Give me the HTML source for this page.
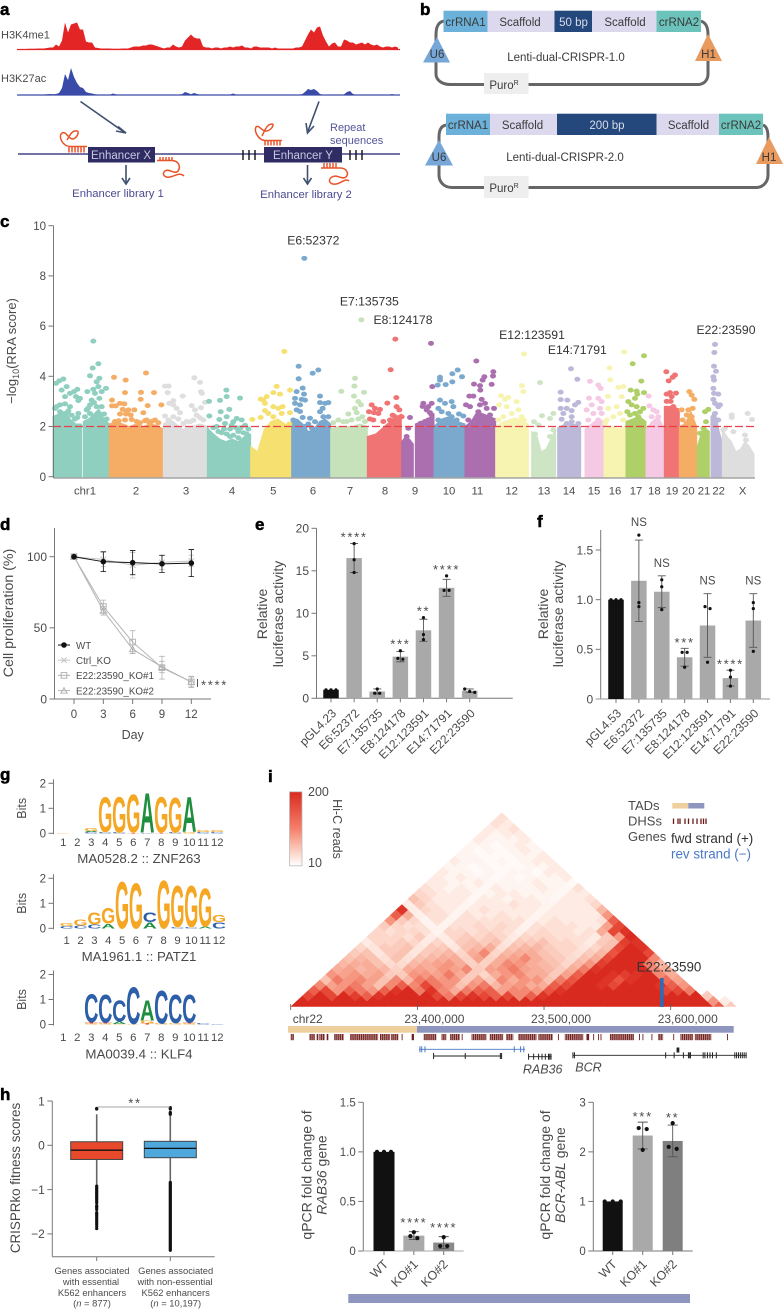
<!DOCTYPE html>
<html lang="en">
<head>
<meta charset="utf-8">
<title>Multi-panel enhancer CRISPR screen figure</title>
<style>
html,body{margin:0;padding:0;background:#fff;}
svg{display:block;}
text{font-family:"Liberation Sans",sans-serif;fill:#4a4a4a;}
.pl{font-size:17px;font-weight:bold;fill:#000;stroke:#000;stroke-width:.5px;}
.bx{font-size:11.5px;fill:#3a3a3a;text-anchor:middle;}
</style>
</head>
<body>
<svg id="fig" xmlns="http://www.w3.org/2000/svg" width="784" height="1309" viewBox="0 0 784 1309">
<text class="pl" x="0" y="15">a</text>
<text class="pl" x="420" y="15">b</text>
<text class="pl" x="0" y="227">c</text>
<text class="pl" x="0" y="530">d</text>
<text class="pl" x="255" y="530">e</text>
<text class="pl" x="537" y="527">f</text>
<text class="pl" x="0" y="780">g</text>
<text class="pl" x="268" y="782">i</text>
<text class="pl" x="0" y="1100">h</text>

<g id="panel-a">
<text x="1" y="38.5" font-size="11">H3K4me1</text>
<text x="1" y="82" font-size="11">H3K27ac</text>
<g id="tracks"></g>
<g stroke="#3f5170" stroke-width="1.6" fill="none">
<path d="M80.5 101.5L124 132"/>
<path d="M118 126.5L126 133L116 131"/>
<path d="M319 101.5L308 131"/>
<path d="M306 123L307.5 133L314 126"/>
<path d="M126 165V183"/>
<path d="M122 178L126 184L130 178"/>
<path d="M307.5 165V183"/>
<path d="M303.5 178L307.5 184L311.5 178"/>
</g>
<rect x="18" y="153.3" width="382" height="1.4" fill="#37357a"/>
<g stroke="#111" stroke-width="1.4">
<path d="M243 150V160M249 150V160M255 150V160M350 150V160M356 150V160M362 150V160"/>
</g>
<rect x="88" y="147" width="67" height="15.5" fill="#2f2b63"/>
<rect x="264" y="147" width="78" height="15.5" fill="#2f2b63"/>
<text x="121" y="159" font-size="11.5" text-anchor="middle" style="fill:#c9c8e2">Enhancer X</text>
<text x="303" y="159" font-size="11.5" text-anchor="middle" style="fill:#c9c8e2">Enhancer Y</text>
<text x="330" y="131" font-size="11" style="fill:#55559b">Repeat</text>
<text x="330" y="144" font-size="11" style="fill:#55559b">sequences</text>
<text x="118" y="197" font-size="11.3" text-anchor="middle" style="fill:#4b4a91">Enhancer library 1</text>
<text x="306" y="198" font-size="11.3" text-anchor="middle" style="fill:#4b4a91">Enhancer library 2</text>
<g fill="none" stroke="#e8542a" stroke-width="1.5">
<path d="M87 146.5H70C62 146 58 136 62 133C66 131 68 138 72 139C77 139 80 131 77 131C72 130 70 135 67 140M69 147V152.5M72 147V152.5M75 147V152.5M78 147V152.5M81 147V152.5M84 147V152.5"/>
<path d="M157 160.5H172C179 161 181 167 178 171C175 175 169 168 165 171C161 174 165 178 170 177C175 176 180 172 184 176M160 157V160M163 157V160M166 157V160M169 157V160M172 157V160"/>
<path d="M282 140.5H265C258 140 254 131 256 127C259 124 262 132 266 131C271 131 275 124 272 124C267 124 265 130 262 136M265 141V145.5M268 141V145.5M271 141V145.5M274 141V145.5M277 141V145.5M280 141V145.5"/>
<path d="M321 168H340C347 168 349 174 346 177C342 180 337 174 332 177C327 180 330 185 336 184C342 183 345 178 349 181M324 163V168M327 163V168M330 163V168M333 163V168M336 163V168"/>
</g>
</g>

<g id="panel-b">
<g fill="none" stroke="#666" stroke-width="3">
<path d="M444 21C438 22 436 27 436 35V74C436 80 442 84.5 450 84.5H484M528 84.5H698C704 84.5 708 80 708 74V35C708 27 706 23 701 21"/>
<path d="M446 125C441 126 439 130 439 137V175C439 182 444 187.5 452 187.5H484M528 187.5H756C763 187.5 768 182 768 175V137C768 130 766 126 763 125"/>
</g>
<rect x="443.5" y="10.7" width="44" height="21.3" fill="#6cb1da"/>
<rect x="487.5" y="10.7" width="67" height="21.3" fill="#dcd9ee"/>
<rect x="554.5" y="10.7" width="37.5" height="21.3" fill="#25487c"/>
<rect x="592" y="10.7" width="64.5" height="21.3" fill="#dcd9ee"/>
<rect x="656.5" y="10.7" width="44.5" height="21.3" fill="#6cc3bb"/>
<text class="bx" x="465.5" y="26">crRNA1</text>
<text class="bx" x="520" y="26">Scaffold</text>
<text class="bx" x="573.5" y="26" style="fill:#d7dcea">50 bp</text>
<text class="bx" x="625" y="26">Scaffold</text>
<text class="bx" x="679" y="26">crRNA2</text>
<polygon points="437,37 423,62.5 450,62.5" fill="#76a7d8"/>
<polygon points="708,34 695,61 722,61" fill="#e99a5f"/>
<text class="bx" x="437" y="58">U6</text>
<text class="bx" x="708.5" y="58">H1</text>
<text class="bx" x="566" y="61">Lenti-dual-CRISPR-1.0</text>
<rect x="484" y="73" width="44.5" height="21" fill="#eeeeee"/>
<text class="bx" x="504" y="89">Puro<tspan font-size="7" dy="-4">R</tspan></text>
<rect x="446" y="113.7" width="44" height="21.3" fill="#6cb1da"/>
<rect x="490" y="113.7" width="67" height="21.3" fill="#dcd9ee"/>
<rect x="557" y="113.7" width="99.5" height="21.3" fill="#25487c"/>
<rect x="656.5" y="113.7" width="62.5" height="21.3" fill="#dcd9ee"/>
<rect x="719" y="113.7" width="44" height="21.3" fill="#6cc3bb"/>
<text class="bx" x="468" y="129">crRNA1</text>
<text class="bx" x="522.5" y="129">Scaffold</text>
<text class="bx" x="607" y="129" style="fill:#d7dcea">200 bp</text>
<text class="bx" x="688.5" y="129">Scaffold</text>
<text class="bx" x="741" y="129">crRNA2</text>
<polygon points="439,140 425,165.5 453,165.5" fill="#76a7d8"/>
<polygon points="769,137 756,164 783,164" fill="#e99a5f"/>
<text class="bx" x="439" y="161">U6</text>
<text class="bx" x="769" y="161">H1</text>
<text class="bx" x="565" y="161">Lenti-dual-CRISPR-2.0</text>
<rect x="484" y="176" width="44.5" height="22" fill="#eeeeee"/>
<text class="bx" x="504" y="192">Puro<tspan font-size="7" dy="-4">R</tspan></text>
</g>

<g id="panel-c">
<text transform="translate(16,351) rotate(-90)" font-size="13" text-anchor="middle">−log<tspan font-size="9" dy="3">10</tspan><tspan dy="-3">(RRA score)</tspan></text>
</g>

<g id="panel-d">
<text transform="translate(13,613) rotate(-90)" font-size="14.2" text-anchor="middle">Cell proliferation (%)</text>
<text x="132.7" y="739" font-size="12.5" text-anchor="middle">Day</text>
</g>

<g id="panel-e">
<text transform="translate(267,614) rotate(-90)" font-size="14" text-anchor="middle">Relative</text>
<text transform="translate(283,614) rotate(-90)" font-size="14" text-anchor="middle">luciferase activity</text>
</g>

<g id="panel-f">
<text transform="translate(548,614) rotate(-90)" font-size="14" text-anchor="middle">Relative</text>
<text transform="translate(563,614) rotate(-90)" font-size="14" text-anchor="middle">luciferase activity</text>
</g>

<g id="panel-g"></g>

<g id="panel-i">
<defs>
<linearGradient id="cbar" x1="0" y1="0" x2="0" y2="1">
<stop offset="0" stop-color="#d92a20"/><stop offset=".5" stop-color="#f5806a"/><stop offset=".85" stop-color="#fddcd0"/><stop offset="1" stop-color="#ffffff"/>
</linearGradient>
<clipPath id="hicClip"><rect x="285" y="800" width="455" height="206.7"/></clipPath>
<pattern id="dhsStripe" width="1.9" height="8" patternUnits="userSpaceOnUse"><rect width="1.25" height="8" fill="#6f1f1f"/><rect x="1.25" width=".65" height="8" fill="#c79a94"/></pattern>
</defs>
<rect x="289.5" y="791.8" width="12.5" height="74" fill="url(#cbar)" stroke="#bbb" stroke-width=".8"/>
<text x="308" y="796" font-size="12.5">200</text>
<text x="308" y="867" font-size="12.5">10</text>
<text transform="translate(333,829) rotate(90)" font-size="12.5" text-anchor="middle">Hi-C reads</text>
<g id="hic" clip-path="url(#hicClip)"></g>
<text x="669" y="971.5" font-size="13.4" text-anchor="middle" style="fill:#333">E22:23590</text>
<rect x="660" y="978" width="3.6" height="29" fill="#2d6cb5"/>
<g id="hicAxis"></g>
<rect x="288" y="1026" width="129" height="6.7" fill="#efcf9d"/>
<rect x="417" y="1026" width="316.7" height="6.7" fill="#8e95bf"/>
<g id="dhs"></g>
<g id="genes"></g>
<text x="542.7" y="1073.5" font-size="12.5" font-style="italic" text-anchor="middle">RAB36</text>
<text x="588.5" y="1071.5" font-size="12.5" font-style="italic" text-anchor="middle">BCR</text>
<text x="628" y="810" font-size="13">TADs</text>
<rect x="672.3" y="803" width="16" height="5.5" fill="#efcf9d"/>
<rect x="688.3" y="803" width="16" height="5.5" fill="#8e95bf"/>
<text x="628" y="825.5" font-size="13">DHSs</text>
<path d="M673.5 818.5v5.5M678 818.5v5.5M680 818.5v5.5M685 818.5v5.5M688.5 818.5v5.5M693 818.5v5.5M697 818.5v5.5M701 818.5v5.5M703.5 818.5v5.5M706 818.5v5.5" stroke="#6b1a1a" stroke-width="1.3"/>
<text x="628" y="841" font-size="13">Genes</text>
<text x="671" y="843" font-size="13.4" style="fill:#333">fwd strand (+)</text>
<text x="671" y="858.5" font-size="13.4" style="fill:#4a78c8">rev strand (−)</text>
</g>

<g id="panel-h">
<text transform="translate(20,1178) rotate(-90)" font-size="13.4" text-anchor="middle">CRISPRko fitness scores</text>
<g font-size="9.4" text-anchor="middle">
<text x="92" y="1274">Genes associated</text>
<text x="91" y="1285">with essential</text>
<text x="92" y="1296">K562 enhancers</text>
<text x="92" y="1306.5">(<tspan font-style="italic">n</tspan> = 877)</text>
<text x="175.7" y="1274">Genes associated</text>
<text x="175" y="1285">with non-essential</text>
<text x="175.7" y="1296">K562 enhancers</text>
<text x="175.7" y="1306.5">(<tspan font-style="italic">n</tspan> = 10,197)</text>
</g>
</g>

<g id="panel-rab">
<text transform="translate(311.7,1175) rotate(-90)" font-size="14" text-anchor="middle">qPCR fold change of</text>
<text transform="translate(326.7,1175) rotate(-90)" font-size="14" text-anchor="middle"><tspan font-style="italic">RAB36</tspan> gene</text>
</g>
<g id="panel-bcr">
<text transform="translate(550,1175) rotate(-90)" font-size="14" text-anchor="middle">qPCR fold change of</text>
<text transform="translate(565,1175) rotate(-90)" font-size="14" text-anchor="middle"><tspan font-style="italic">BCR-ABL</tspan> gene</text>
</g>
<rect x="348.3" y="1294" width="341.7" height="9" fill="#8e95bf"/>
</svg>

<script>
/* ---------- panel a: signal tracks ---------- */
const h3k4me1Signal = [.5,.5,.5,.5,.7,.7,.7,1,1,1,1.5,2,2,5,3,9,27,17,25,26,27,20,20,8,7,7,2,1.5,1,1,1,1,.7,.7,.7,1,1,1,2,3,3,3,4,4,5,5,4,3,2,1,2,2,5,3,2,3,9,12,15,12,11,11,3,2,2,1,2,2,1,2,2,3,2,3,3,4,2,2,1,3,3,2,2,2,2,1,2,1,1,1,1,1,1,2,2,3,9,15,20,17,22,23,14,8,3,6,7,3,3,10,9,7,7,5,6,7,5,7,5,4,5,3,2,3,3,2,3,2];
const h3k27acSignal = [.3,.3,.3,.3,.3,.3,.3,.3,.3,.5,.8,1,.8,1,2,7,21,15,27,18,12,8,7,3,2,1.5,.8,.5,.4,.4,.4,.4,1.5,.6,.4,.4,.4,.4,.3,.3,.3,.3,.3,.3,.3,.3,.3,.3,.3,.3,.3,.3,.3,.3,.5,.8,3,2,.8,2,1,.4,.3,.3,.3,.3,.3,.3,.3,.3,.3,.5,1.5,.5,.3,.3,.3,.3,.3,.3,.3,.3,.3,.3,.3,.3,.3,.3,.3,.3,.3,.3,.3,.3,.5,.8,3,6,5,6,4,1,.4,.3,.3,.3,.3,.3,.3,.6,3,4,1,.4,.3,.3,.3,.3,.3,.3,.3,.3,.3,.3,.3,1,.3,.3];

/* ---------- panel c: Manhattan plot ---------- */
const chrLabels = ['chr1','2','3','4','5','6','7','8','9','10','11','12','13','14','15','16','17','18','19','20','21','22','X'];
const chrTickBins = [255,408,558,696,820,939,1050,1155,1245,1347,1432,1535,1632,1707,1782,1845,1908,1963,2016,2065,2112,2156,2228];
const chrColors = ['#8fcfc0','#f5ad66','#dedede','#8fcfc0','#f6e070','#7aa9cd','#c5e2bb','#f07474','#ab6fb0','#7aa9cd','#ab6fb0','#f7f3b0','#cde5c5','#bcb8d9','#f5c8e3','#f7f3b0','#afd068','#f5c8e3','#f07474','#f5ad66','#afd068','#bcb8d9','#dedede'];
const massSegments = [
[0,159,245,[2.4,2.5,2.6,2.3,2.1,2.1]],[0,250,328,[2.2,2.3,2.5,2.7,2.3,2.1]],
[1,328,490,[2.1,2.2,2.1,2,2.1,2,2.1,2.05,1.9]],
[2,490,548,[2.1,2.3,2.1,1.9]],[2,550,625,[1.9,2,2.1,2]],
[3,622,752,[1.95,1.7,1.5,1.4,1.5,1.4,1.6,1.7]],
[4,752,875,[1.2,1,1.9,2.2,2.3,2.1,2]],
[5,875,992,[2.2,2.3,2.1,1.8,1.9,2.2,2.3,2.1]],
[6,992,1102,[1.9,2,2,2,2.1,2]],
[7,1102,1204,[1.6,1.7,2,2.3,2.5]],
[8,1205,1240,[1.4,1.6,1.5,1.3]],[8,1246,1302,[2.1,2.2,2.3,2.5]],
[9,1302,1395,[2,2.3,2.4,2.2,2.1]],
[10,1395,1487,[2,2.2,2.6,2.5,2.4,2.3]],
[11,1487,1585,[2,2.2,2.3,2.3,2.1]],
[12,1595,1667,[1.8,1.7,1,1.1,1.5,1.9]],
[13,1673,1742,[1.95,2.1,2.1,2]],
[14,1755,1812,[1.9,2.1,2.3,2.2]],
[15,1812,1878,[1.9,2,1.9,2]],
[16,1878,1938,[2.2,2.3,2.4,2.2]],
[17,1938,1993,[1.9,2.2,2.4,1.9]],
[18,1993,2038,[2.8,2.8,2.7]],
[19,2038,2090,[2,2.1,2.6,2]],
[20,2092,2128,[1.2,2,1.8]],
[21,2133,2170,[2.4,2.6,1.8,1.2]],
[22,2167,2262,[1.9,1.6,1.4,1,1.1,1.4,1.2,.9]]
];
const hitsByChr = [
[[168,3.72],[178,3.82],[190,3.89],[200,3.59],[185,3.45],[195,3.19],[210,3.32],[222,3.39],[232,3.48],[228,3.19],[240,3.12],[235,3.03],[180,2.86],[195,2.9],[170,2.79],[210,2.79],[235,2.52],[232,2.36],[180,2.59],[200,2.52],[190,2.39],[175,2.26],[280,5.4],[295,4.5],[278,4.33],[270,4.02],[298,3.92],[290,3.78],[262,3.39],[280,3.48],[295,3.59],[305,3.39],[318,3.52],[275,3.05],[298,3.12],[285,3.32],[270,2.86],[290,2.79],[260,2.66],[305,2.79],[255,2.39],[270,2.52],[295,2.52],[300,2.26],[310,2.19],[165,2.72],[205,2.62],[215,2.45],[225,2.3],[264,2.72],[282,2.95],[312,2.5],[320,2.3]],
[[342,3.96],[377,3.85],[438,4.13],[375,3.35],[423,3.36],[462,3.35],[336,3.05],[422,3.08],[360,2.92],[373,2.9],[336,2.82],[347,2.82],[443,2.83],[484,2.86],[368,2.68],[385,2.66],[403,2.66],[360,2.5],[378,2.5],[392,2.46],[430,2.55],[465,2.26],[375,2.26],[356,2.23],[395,2.28],[435,2.23],[448,2.16],[440,2.26],[345,2.2],[410,2.2],[420,2.15],[455,2.2],[475,2.15],[380,2.6]],
[[495,3.61],[506,3.61],[503,3.35],[583,3.94],[600,3.76],[603,3.39],[606,3.32],[548,3.21],[520,3.03],[508,2.92],[520,2.86],[575,2.83],[603,2.75],[585,2.66],[615,2.96],[530,2.72],[540,2.55],[495,2.42],[520,2.39],[590,2.45],[505,2.26],[610,2.26],[570,2.19],[550,2.12],[560,2.2],[535,2.3],[600,2.35],[580,2.25]],
[[627,3],[628,2.42],[660,3.04],[679,3.45],[680,3.19],[720,3.13],[662,2.59],[688,2.68],[680,2.39],[658,2.28],[710,2.32],[725,2.26],[700,2.19],[675,2.12],[650,2],[690,1.9],[735,2.05],[715,1.8],[665,1.75],[700,1.65],[745,1.9],[640,1.95],[655,1.8],[672,1.9],[680,1.7],[695,2.05],[708,1.95],[722,1.95],[730,1.75],[740,1.7],[690,1.6],[715,1.55]],
[[853,4.99],[830,3.6],[870,3.45],[820,3.35],[840,3.29],[800,3.19],[782,3.09],[795,2.92],[790,3.05],[870,2.55],[757,2.28],[848,2.79],[820,2.79],[835,2.72],[795,2.63],[805,2.52],[782,2.36],[845,2.52],[820,2.39],[868,2.1]],
[[913,8.7],[896,4.4],[955,4.25],[938,4.12],[896,3.9],[908,3.53],[890,3.39],[912,3.29],[960,3.21],[885,3.12],[905,3.08],[915,3.05],[885,2.92],[900,2.86],[960,2.95],[985,2.95],[975,2.92],[890,2.66],[900,2.6],[968,2.72],[960,2.59],[908,2.36],[880,2.26],[930,2.33],[970,2.39],[985,2.39],[945,2.19],[925,2.1],[915,2],[935,1.95]],
[[1084,6.25],[1065,3.92],[1063,3.61],[1024,3.4],[1092,3.36],[1062,3.21],[1075,2.99],[1083,2.86],[1065,2.72],[1045,2.5],[1087,2.39],[1015,2.26],[1030,2.19],[1055,2.26],[1070,2.55],[1000,2.15],[1040,2.2],[1075,2.3],[1095,2.2]],
[[1186,5.48],[1172,4.26],[1162,2.93],[1189,3.15],[1115,2.86],[1125,2.72],[1140,2.68],[1107,2.59],[1122,2.55],[1135,2.52],[1190,2.79],[1198,2.66],[1170,2.26],[1185,2.39],[1120,2.26],[1205,2.39],[1110,2.3],[1150,2.2],[1178,2.45]],
[[1293,5.31],[1297,3.59],[1230,2.36],[1270,2.92],[1295,2.92],[1285,2.79],[1280,2.66],[1295,2.46],[1262,2.13],[1275,2.2],[1285,2.26],[1225,1.93],[1220,1.6],[1268,2.8],[1290,2.55]],
[[1373,4.25],[1357,4.1],[1386,3.98],[1357,3.78],[1320,3.96],[1320,3.85],[1313,3.65],[1337,3.67],[1320,3.05],[1315,2.72],[1355,2.99],[1335,2.92],[1360,2.79],[1325,2.59],[1345,2.52],[1355,2.39],[1377,2.5],[1390,2.42],[1315,2.26],[1370,2.26]],
[[1429,4.61],[1453,3.98],[1448,3.85],[1440,3.63],[1422,3.69],[1480,4.18],[1479,4.01],[1475,3.68],[1441,3.45],[1420,3.21],[1408,3.21],[1445,3.08],[1455,2.92],[1440,2.86],[1410,2.79],[1398,2.86],[1482,2.72],[1460,2.72],[1435,2.59],[1470,2.46],[1450,2.39],[1405,2.26],[1430,2.26],[1465,2.26]],
[[1572,4.89],[1566,3.63],[1570,3.39],[1503,3.23],[1525,3.16],[1515,3.08],[1550,2.99],[1497,2.86],[1520,2.79],[1555,2.66],[1535,2.52],[1565,2.39],[1545,2.26],[1510,2.39],[1572,2.26],[1495,2.26]],
[[1620,3.75],[1626,2.43],[1660,2.52],[1602,2.19],[1650,2.32],[1615,2.06],[1660,1.86],[1650,1.6],[1605,1.7]],
[[1713,4.3],[1732,3.88],[1682,3.37],[1682,3.07],[1702,3.05],[1735,2.96],[1725,2.86],[1682,2.72],[1700,2.72],[1715,2.63],[1690,2.52],[1715,2.39],[1685,2.29],[1735,2.12],[1715,2.19],[1700,2.12]],
[[1770,3.8],[1795,3.65],[1802,3.52],[1767,3.13],[1795,3.12],[1805,2.99],[1775,2.86],[1800,2.72],[1760,2.66],[1780,2.52],[1805,2.52],[1765,2.26],[1795,2.26]],
[[1873,4.97],[1829,4.33],[1831,3.86],[1855,3.56],[1870,3.59],[1824,3.2],[1865,3.19],[1825,2.72],[1850,2.79],[1860,2.52],[1870,2.26],[1820,2.26],[1840,2.39],[1815,2.12]],
[[1932,4.82],[1898,4.5],[1924,3.81],[1892,3.45],[1910,3.41],[1932,3.35],[1905,3.12],[1912,3.29],[1885,2.99],[1895,2.86],[1882,2.59],[1910,2.79],[1920,2.59],[1930,2.72],[1890,2.46],[1905,2.52],[1915,2.39]],
[[1946,3.21],[1948,2.82],[1960,2.66],[1970,2.59],[1975,2.39],[1955,2.39],[1970,2.19],[1960,2.12]],
[[1999,4.18],[2025,4.05],[2018,3.96],[2006,3.82],[2028,3.33],[2000,3.29],[2015,3.19],[2010,3.35],[2000,3],[2012,3],[2005,2.66],[2020,2.79]],
[[2068,3.39],[2075,3.25],[2083,3.08],[2045,2.66],[2065,2.66],[2078,2.72],[2060,2.46],[2075,2.39],[2048,2.26],[2060,2.12]],
[[2125,2.68],[2115,2.59],[2118,2.19],[2110,1.93],[2100,1.73],[2120,1.73]],
[[2145,5.27],[2143,4.95],[2142,4.4],[2148,4.2],[2140,3.98],[2142,3.85],[2140,3.52],[2155,3.29],[2142,3.32],[2140,3.08],[2160,2.86],[2145,2.92],[2155,2.79],[2145,2.52],[2155,2.26],[2142,2.12]],
[[2195,2.46],[2195,2.36],[2243,2.52],[2256,2.28],[2175,1.93],[2200,1.79],[2235,1.66],[2238,1.46],[2170,1.86]]
];
const namedEnhancers = ['E6:52372','E7:135735','E8:124178','E12:123591','E14:71791','E22:23590'];
const namedEnhancerBins = [940,1108,1209,1596,1732,2178];
const namedEnhancerScores = [9.43,7.0,6.25,5.65,5.05,5.85];
const manhattanTicks = [0,2,4,6,8,10];
const significanceThreshold = 2;

/* ---------- panel d: proliferation ---------- */
const days = [0,3,6,9,12];
const wtMean = [100,96.5,95.8,95,95.5];
const wtErr = [0,7,8.5,6,9.5];
const ctrlMean = [100,98,94,96,97];
const ctrlErr = [0,5,9,5,4];
const ko1Mean = [100,65,40,22,12];
const ko1Err = [0,4.5,8,8,3.5];
const ko2Mean = [100,62,35,22.5,12];
const ko2Err = [0,3,3,4,4];
const prolifTicks = [0,50,100];
const prolifLegend = ['WT','Ctrl_KO','E22:23590_KO#1','E22:23590_KO#2'];

/* ---------- panels e, f: luciferase ---------- */
const lucECategories = ['pGL4.23','E6:52372','E7:135735','E8:124178','E12:123591','E14:71791','E22:23590'];
const lucEValues = [1,16.5,.8,4.9,8,13,.9];
const lucEErrors = [0,1.7,.3,.6,1.3,1,.2];
const lucEPoints = [[1,1,1],[18.2,16.3,14.8],[1.1,.6,.6],[5.6,4.7,4.6],[9.5,7.5,6.9],[14.4,12.7,12.7],[1.1,.8,.7]];
const lucESig = ['','****','','***','**','****',''];
const lucETicks = [0,5,10,15,20];
const lucFCategories = ['pGL4.53','E6:52372','E7:135735','E8:124178','E12:123591','E14:71791','E22:23590'];
const lucFValues = [1,1.19,1.08,.42,.74,.21,.79];
const lucFErrors = [0,.41,.16,.09,.32,.08,.27];
const lucFPoints = [[1,1,1],[1.65,.97,.93],[1.2,1.13,.9],[.47,.47,.32],[.93,.91,.37],[.29,.22,.13],[.97,.91,.48]];
const lucFSig = ['','NS','NS','***','NS','****','NS'];
const lucFTicks = [0,.5,1,1.5];
const lucFTickLabels = ['0','0.5','1.0','1.5'];

/* ---------- panel g: motif logos (letter, bits; bottom to top) ---------- */
const logoZnf263 = [[['G',.03]],[],[['C',.05],['A',.05],['G',.12]],[['C',.05],['G',1.45]],[['C',.04],['G',1.5]],[['T',.03],['G',1.6]],[['C',.03],['A',1.65]],[['T',.03],['G',1.5]],[['C',.04],['G',1.45]],[['G',.05],['A',1.45]],[['C',.06],['G',.08]],[['C',.05],['G',.07]]];
const logoPatz1 = [[['C',.1],['G',.13]],[['C',.12],['G',.25]],[['C',.15],['G',.5]],[['A',.2],['G',.65]],[['G',1.95]],[['G',1.9]],[['A',.25],['C',.4]],[['G',2]],[['C',.05],['G',1.72]],[['C',.05],['G',1.72]],[['A',.08],['G',1.6]],[['C',.25],['G',.3]]];
const logoKlf4 = [[],[['G',.01]],[['G',.05],['T',.05],['C',1.15]],[['G',.04],['T',.05],['C',1.15]],[['G',.03],['A',.1],['C',.9]],[['G',.03],['C',1.55]],[['T',.04],['G',.13],['A',.85]],[['G',.04],['C',1.38]],[['G',.06],['C',1.2]],[['G',.04],['T',.05],['C',1.15]],[['C',.05]],[['C',.02]]];
const logoPositions = [1,2,3,4,5,6,7,8,9,10,11,12];
const logoTicks = [0,1,2];
const logoTitles = ['MA0528.2 :: ZNF263','MA1961.1 :: PATZ1','MA0039.4 :: KLF4'];

/* ---------- panel i: Hi-C reads by bin distance (row) and start bin (column) ---------- */
const hicReads = [
[200,200,200,200,200,200,200,200,200,200,200,200,200,200,200,200,200,200,200,200,200,200,200,200,200,200,200,200,200,200,200,200,200,200,200,200,150,60],
[200,200,200,200,200,200,200,200,200,200,200,200,200,200,200,200,200,200,200,200,200,200,200,200,200,200,200,200,200,200,200,200,200,200,200,110,30],
[170,200,170,200,180,150,190,200,200,200,200,170,130,170,190,170,150,170,120,150,190,200,200,200,200,200,200,200,200,200,200,200,200,200,60],
[150,170,110,150,130,110,150,190,200,130,190,120,90,130,150,150,100,120,120,110,160,190,200,200,200,200,200,200,200,200,170,170,130],
[120,100,110,130,100,70,120,150,120,170,130,110,70,110,130,80,100,110,90,90,150,170,200,200,190,170,200,200,200,190,150,110],
[70,130,110,120,100,70,120,80,130,130,110,110,60,100,60,120,90,110,110,70,130,160,200,200,190,160,190,200,200,140,100],
[110,100,110,90,100,60,60,110,110,100,130,90,60,50,90,110,120,90,90,60,100,150,200,200,190,180,190,200,120,90],
[90,100,80,90,80,55,90,100,90,110,100,120,60,100,110,130,100,90,80,60,90,130,190,200,200,200,200,120,90],
[80,90,90,70,45,45,80,90,100,110,90,55,55,90,120,110,90,80,70,50,80,110,180,200,200,200,130,80],
[70,80,70,40,70,40,70,80,90,90,55,100,55,90,100,120,90,70,60,45,70,90,170,200,200,200,120],
[60,70,35,60,70,35,60,70,80,50,90,120,50,80,90,90,70,60,50,40,60,80,160,200,200,170],
[50,35,60,60,70,35,60,60,35,70,80,90,40,70,80,80,60,50,50,35,50,70,170,200,190],
[30,50,50,60,50,30,50,30,60,70,60,70,35,60,60,70,50,50,40,30,60,70,180,190],
[50,50,50,40,60,28,28,50,60,50,60,50,30,50,50,50,40,40,40,30,60,110,200],
[50,40,50,50,40,22,50,50,40,50,50,40,25,40,50,40,40,30,40,90,170,190],
[60,50,40,40,22,22,40,40,50,40,50,40,22,40,40,40,40,30,30,100,170],
[110,60,50,22,40,22,40,40,40,40,40,40,22,30,40,30,30,30,40,150],
[150,90,25,40,40,20,40,30,30,40,30,30,20,30,30,30,30,30,110],
[190,28,50,40,30,20,30,40,30,30,30,30,20,30,30,30,30,80],
[28,60,40,30,30,20,30,30,30,40,30,30,20,30,30,30,50],
[70,50,30,30,30,18,30,30,20,30,30,20,18,30,30,40],
[50,40,30,30,30,18,20,30,30,20,20,20,18,30,30],
[40,30,20,30,20,18,30,20,20,20,30,20,18,40],
[30,30,20,20,30,18,20,20,20,30,20,20,15],
[30,20,30,20,20,15,20,15,20,20,20,30],
[30,20,20,15,20,15,20,20,15,30,30],
[20,20,15,20,15,15,15,20,20,30],
[30,20,20,15,20,15,20,30,30],
[20,20,15,15,15,20,20,30],
[20,15,20,15,20,30,20],
[20,20,15,20,30,20],
[30,20,20,20,30],
[30,20,30,30],
[30,30,40],
[40,30],
[40]
];
const hicGenomeTicks = [23300,23400,23500,23600];
const hicGenomeLabels = ['chr22','23,400,000','23,500,000','23,600,000'];
const dhsIntervalsKb = [[0,2.6],[14.7,19.2],[20.5,21.8],[22.6,27],[28.4,29.7],[34.2,42],[46.8,69],[70.5,78.4],[79,85],[87.6,88],[95.5,97.3],[105,115],[119,123],[125.7,133.6],[135,135.6],[142.8,154.6],[157,167.8],[170,175.7],[179.6,194],[195.4,207],[211,211.6],[216.4,231],[233.5,235.6],[238.8,239.4],[242.7,243.3],[244.6,245.2],[252,271],[275,275.6],[277.7,278.3],[284.8,285.4],[290,294],[302,302.6],[307.7,317.7],[319,332],[344.5,345]];
const geneSpansKb = [[101.3,185],[112.5,166.5],[187.5,206],[222.5,360]];
const geneExonsKb = [[102,103.4,106,176.5,181.5,184],[112.8,137.8,165.5,166.5],[187.8,191.8,195.7,198.4,201,203.5,204.5,205.5],[222.8,224,296,302.7,310,314,315,315.6,325.6,327,329,331,333,336,350.6,352,353.5,355,356.5,358,359.5]];
const geneStrands = ['rev','fwd','fwd','fwd'];

/* ---------- panel h: box plots ---------- */
const boxCategories = ['essential','non-essential'];
const boxQ1 = [-.32,-.28];
const boxMedian = [-.11,-.07];
const boxQ3 = [.08,.09];
const boxWhiskerLow = [-.9,-.82];
const boxWhiskerHigh = [.7,.68];
const boxOutliersEssential = [.82,.83,-.92,-.95,-.98,-1.01,-1.04,-1.07,-1.1,-1.13,-1.16,-1.19,-1.22,-1.26,-1.3,-1.36,-1.38,-1.41,-1.45,-1.52,-1.55,-1.58,-1.62,-1.66,-1.7,-1.74,-1.78,-1.83,-1.88];
const boxOutliersNonEssential = [.85,.82,.74,.72,.7,-.84,-.87,-.9,-.93,-.96,-.99,-1.02,-1.05,-1.08,-1.11,-1.14,-1.17,-1.2,-1.23,-1.26,-1.29,-1.32,-1.35,-1.38,-1.41,-1.44,-1.47,-1.5,-1.53,-1.56,-1.59,-1.62,-1.65,-1.68,-1.71,-1.74,-1.77,-1.8,-1.83,-1.86,-1.89,-1.92,-1.95,-1.98,-2.01,-2.04,-2.07,-2.1,-2.13,-2.16,-2.19,-2.22,-2.25,-2.28,-2.31,-2.34,-2.37];
const boxTicks = [-2,-1,0,1];
const boxTickLabels = ['−2','−1','0','1'];

/* ---------- qPCR panels ---------- */
const qpcrCategories = ['WT','KO#1','KO#2'];
const rabValues = [1,.155,.085];
const rabErrors = [0,.04,.06];
const rabPoints = [[1,1,1],[.19,.13,.15],[.14,.05,.05]];
const rabSig = ['','****','****'];
const rabTicks = [0,.5,1,1.5];
const rabTickLabels = ['0','0.5','1.0','1.5'];
const bcrValues = [1,2.33,2.22];
const bcrErrors = [0,.27,.32];
const bcrPoints = [[1,1,1],[2.48,2.46,2.04],[2.58,2.06,2.1]];
const bcrSig = ['','***','**'];
const bcrTicks = [0,1,2,3];

/* ---------- helpers ---------- */
const NS = 'http://www.w3.org/2000/svg';
const AXIS = '#777';
function mk(tag, attrs, parent) {
  const e = document.createElementNS(NS, tag);
  for (const k in attrs) e.setAttribute(k, attrs[k]);
  parent.appendChild(e);
  return e;
}
function txt(parent, s, x, y, size, anchor, extra) {
  const t = mk('text', Object.assign({x: x, y: y, 'font-size': size, 'text-anchor': anchor || 'start'}, extra || {}), parent);
  t.textContent = s;
  return t;
}
function linear(d0, d1, r0, r1) { return v => r0 + (v - d0) / (d1 - d0) * (r1 - r0); }

function yAxis(parent, prefix, x, y, ticks, labels, top, bottom, size) {
  const line = mk('line', {x1: x, x2: x, y1: top, y2: bottom, stroke: AXIS, 'stroke-width': 1}, parent);
  
  
  ticks.forEach((v, i) => {
    const tk = mk('line', {x1: x - 5, x2: x, y1: y(v), y2: y(v), stroke: AXIS, 'stroke-width': 1}, parent);
    
    
    const lb = txt(parent, labels[i], x - 7.5, y(v) + size * .36, size, 'end');
    
    
  });
}
function xBaseline(parent, prefix, x0, x1, y, width, color) {
  const line = mk('line', {x1: x0, x2: x1, y1: y, y2: y, stroke: color || AXIS, 'stroke-width': width || 1}, parent);
  
  
}
function dodge(vals, yf, gap) {
  const off = vals.map(() => 0);
  const order = vals.map((v, i) => i).sort((a, b) => yf(vals[a]) - yf(vals[b]));
  let s = 0;
  while (s < order.length) {
    let e = s;
    while (e + 1 < order.length && Math.abs(yf(vals[order[e + 1]]) - yf(vals[order[s]])) < 3.5) e++;
    const n = e - s + 1;
    for (let k = 0; k < n; k++) off[order[s + k]] = (k - (n - 1) / 2) * gap;
    s = e + 1;
  }
  return off;
}
function barChart(o) {
  const g = o.parent;
  xBaseline(g, o.prefix, o.axisLeft, o.axisRight, o.y(0), o.axisWidth, o.axisColor);
  o.categories.forEach((cat, i) => {
    const cx = o.x(i);
    const tk = mk('line', {x1: cx, x2: cx, y1: o.y(0), y2: o.y(0) + 4, stroke: AXIS, 'stroke-width': 1}, g);
    
    
    const bar = mk('rect', {x: cx - o.barW / 2, y: o.y(o.values[i]), width: o.barW, height: o.y(0) - o.y(o.values[i]), fill: o.colors[i]}, g);
    
    
    if (o.errors[i] > 0) {
      const hi = o.y(o.values[i] + o.errors[i]);
      const lo = o.y(o.values[i] - o.errors[i]);
      const eb = mk('path', {d: 'M' + (cx - o.cap) + ' ' + hi + 'H' + (cx + o.cap) + 'M' + cx + ' ' + hi + 'V' + lo + 'M' + (cx - o.cap) + ' ' + lo + 'H' + (cx + o.cap), stroke: '#555', 'stroke-width': .9, fill: 'none'}, g);
      
      
    }
    const offs = dodge(o.points[i], o.y, o.dotGap);
    o.points[i].forEach((p, k) => {
      const d = mk('circle', {cx: cx + offs[k], cy: o.y(p), r: o.dotR, fill: '#111'}, g);
      
      
    });
    const lb = txt(g, cat, cx + o.labelDx, o.labelY, o.labelSize, 'end', {transform: 'rotate(-45 ' + (cx + o.labelDx) + ' ' + o.labelY + ')'});
    
    
    if (o.sig[i]) {
      const top = Math.min(o.y(o.values[i] + o.errors[i]), ...o.points[i].map(o.y));
      const isNS = o.sig[i] === 'NS';
      const s = txt(g, o.sig[i], cx, isNS ? top - 9 : top - o.starGap + 6.5, isNS ? 11.5 : 13, 'middle', isNS ? {} : {'letter-spacing': '1.7'});
      
      
    }
  });
}

/* ---------- draw: tracks ---------- */
(function () {
  const host = document.getElementById('tracks');
  const tx = linear(0, h3k4me1Signal.length - 1, 17, 17 + (h3k4me1Signal.length - 1) * 3);
  function track(values, base, color, name) {
    const pts = ['17,' + base];
    values.forEach((v, i) => pts.push(tx(i) + ',' + (base - v)));
    pts.push(tx(values.length - 1) + ',' + base);
    const p = mk('polygon', {points: pts.join(' '), fill: color}, host);
    
    
    const l = mk('line', {x1: 17, x2: 400, y1: base, y2: base, stroke: color, 'stroke-width': 1.3}, host);
    
    
  }
  track(h3k4me1Signal, 49.5, '#e32526', 'h3k4me1-track');
  track(h3k27acSignal, 95, '#3a4aa8', 'h3k27ac-track');
})();

/* ---------- draw: Manhattan ---------- */
(function () {
  const g = document.getElementById('panel-c');
  const gx = linear(159, 2265, 53, 755);
  const gy = linear(0, 10, 476.7, 225.7);
  massSegments.forEach(seg => {
    const tops = seg[3];
    const pts = [gx(seg[1]) + ',' + gy(0)];
    tops.forEach((v, i) => {
      pts.push(gx(seg[1] + (seg[2] - seg[1]) * i / (tops.length - 1)) + ',' + gy(v));
    });
    pts.push(gx(seg[2]) + ',' + gy(0));
    const m = mk('polygon', {points: pts.join(' '), fill: chrColors[seg[0]], stroke: chrColors[seg[0]], 'stroke-width': 1, 'stroke-linejoin': 'round'}, g);
    
    
  });
  hitsByChr.forEach((hits, c) => {
    hits.forEach(h => {
      const d = mk('ellipse', {cx: gx(h[0]), cy: gy(h[1]), rx: 3, ry: 2.5, fill: chrColors[c]}, g);
      
      
    });
  });
  const thr = mk('line', {x1: gx(159), x2: gx(2265), y1: gy(significanceThreshold), y2: gy(significanceThreshold), stroke: '#e8404a', 'stroke-width': 1.2, 'stroke-dasharray': '8 3'}, g);
  
  
  yAxis(g, 'manhattan', 53.5, gy, manhattanTicks, manhattanTicks.map(String), 225.7, 478, 11.5);
  xBaseline(g, 'manhattan', 53.5, 755, 478, 1);
  chrLabels.forEach((n, i) => {
    const t = txt(g, n, gx(chrTickBins[i]), 494.7, 11.3, 'middle');
    
    
  });
  namedEnhancers.forEach((n, i) => {
    const t = txt(g, n, gx(namedEnhancerBins[i]), gy(namedEnhancerScores[i]) + 4.3, 12.2, 'middle', {style: 'fill:#333'});
    
    
  });
})();

/* ---------- draw: proliferation ---------- */
(function () {
  const g = document.getElementById('panel-d');
  const x = linear(0, 12, 74, 191.3);
  const y = linear(0, 100, 699, 556.7);
  yAxis(g, 'proliferation', 54.5, y, prolifTicks, prolifTicks.map(String), 528, 699, 12);
  xBaseline(g, 'proliferation', 50, 211, 699, 1);
  days.forEach(d => {
    const tk = mk('line', {x1: x(d), x2: x(d), y1: 699, y2: 704, stroke: AXIS, 'stroke-width': 1}, g);
    
    
    const lb = txt(g, String(d), x(d), 718, 11.5, 'middle');
    
    
  });
  function marker(px, py, kind, color, parent) {
    let m;
    if (kind === 'circle') m = mk('circle', {cx: px, cy: py, r: 2.8, fill: color}, parent);
    else if (kind === 'x') m = mk('path', {d: 'M' + (px - 2.8) + ' ' + (py - 2.8) + 'L' + (px + 2.8) + ' ' + (py + 2.8) + 'M' + (px - 2.8) + ' ' + (py + 2.8) + 'L' + (px + 2.8) + ' ' + (py - 2.8), stroke: color, 'stroke-width': 1, fill: 'none'}, parent);
    else if (kind === 'square') m = mk('rect', {x: px - 2.8, y: py - 2.8, width: 5.6, height: 5.6, stroke: color, 'stroke-width': 1, fill: 'none'}, parent);
    else m = mk('path', {d: 'M' + px + ' ' + (py - 3) + 'L' + (px + 3.2) + ' ' + (py + 2.5) + 'H' + (px - 3.2) + 'Z', stroke: color, 'stroke-width': 1, fill: 'none'}, parent);
    
    
  }
  function series(means, errs, color, kind, name) {
    errs.forEach((e, i) => {
      if (e <= 0) return;
      const px = x(days[i]);
      const hi = y(means[i] + e);
      const lo = y(means[i] - e);
      const eb = mk('path', {d: 'M' + (px - 2.8) + ' ' + hi + 'H' + (px + 2.8) + 'M' + px + ' ' + hi + 'V' + lo + 'M' + (px - 2.8) + ' ' + lo + 'H' + (px + 2.8), stroke: color, 'stroke-width': .8, fill: 'none'}, g);
      
      
    });
    const l = mk('polyline', {points: means.map((m, i) => x(days[i]) + ',' + y(m)).join(' '), stroke: color, 'stroke-width': 1, fill: 'none'}, g);
    
    
    means.forEach((m, i) => marker(x(days[i]), y(m), kind, color, g));
  }
  series(ctrlMean, ctrlErr, '#c4c4c4', 'x', 'ctrl-ko');
  series(ko2Mean, ko2Err, '#b4b4b4', 'triangle', 'ko2');
  series(ko1Mean, ko1Err, '#b4b4b4', 'square', 'ko1');
  series(wtMean, wtErr, '#111', 'circle', 'wt');
  const kinds = ['circle', 'x', 'square', 'triangle'];
  const legendColors = ['#111', '#c4c4c4', '#b4b4b4', '#b4b4b4'];
  prolifLegend.forEach((n, i) => {
    const ly = 645 + i * 15.2;
    const sw = mk('line', {x1: 58, x2: 70, y1: ly, y2: ly, stroke: legendColors[i], 'stroke-width': 1}, g);
    
    
    marker(64, ly, kinds[i], legendColors[i], g);
    const t = txt(g, n, 76, ly + 3.8, 9.8, 'start');
    
    
  });
  const br = mk('line', {x1: 197.5, x2: 197.5, y1: 679, y2: 687, stroke: '#555', 'stroke-width': 1}, g);
  
  
  const st = txt(g, '****', 201, 689.5, 13, 'start', {'letter-spacing': '1.7'});
  
  
})();

/* ---------- draw: luciferase ---------- */
(function () {
  const ge = document.getElementById('panel-e');
  const ye = linear(0, 20, 698.3, 528.3);
  yAxis(ge, 'luciferase-e', 316.5, ye, lucETicks, lucETicks.map(String), 528.3, 698.3, 12);
  barChart({parent: ge, prefix: 'luciferase-e', categories: lucECategories, values: lucEValues, errors: lucEErrors, points: lucEPoints, sig: lucESig,
    x: linear(0, 6, 331, 469.7), y: ye, barW: 15.5, cap: 4, dotR: 1.6, dotGap: 5, axisLeft: 316.5, axisRight: 512.7, colors: ['#111','#a9a9a9','#a9a9a9','#a9a9a9','#a9a9a9','#a9a9a9','#a9a9a9'],
    labelDx: 6, labelY: 714, labelSize: 12, starGap: 8.5});
  const gf = document.getElementById('panel-f');
  const yf = linear(0, 1.5, 699, 550);
  yAxis(gf, 'luciferase-f', 600.7, yf, lucFTicks, lucFTickLabels, 530, 699, 12);
  barChart({parent: gf, prefix: 'luciferase-f', categories: lucFCategories, values: lucFValues, errors: lucFErrors, points: lucFPoints, sig: lucFSig,
    x: linear(0, 6, 616, 753.3), y: yf, barW: 15.5, cap: 4, dotR: 1.6, dotGap: 5, axisLeft: 596, axisRight: 770, axisWidth: 1.2, axisColor: '#aaa', colors: ['#111','#a9a9a9','#a9a9a9','#a9a9a9','#a9a9a9','#a9a9a9','#a9a9a9'],
    labelDx: 6, labelY: 714, labelSize: 12, starGap: 8});
})();

/* ---------- draw: logos ---------- */
(function () {
  const g = document.getElementById('panel-g');
  const letterColor = {G: '#f5a623', C: '#2d5fa8', A: '#1f8f3f', T: '#d8342a'};
  const advance = {G: .778, C: .722, A: .722, T: .611};
  function logo(stacks, title, zero, bitPx, x1, step, labelY, titleY, idx) {
    const y = v => zero - v * bitPx;
    yAxis(g, 'logo-' + idx, 53.5, y, logoTicks, logoTicks.map(String), y(2) - 4, zero + 1, 11.5);
    const bits = txt(g, 'Bits', 0, 0, 12.5, 'middle', {transform: 'translate(26,' + y(1) + ') rotate(-90)'});
    
    
    logoPositions.forEach((p, i) => {
      const cx = x1 + i * step;
      const lb = txt(g, String(p), cx, labelY, 11.3, 'middle');
      
      
      let acc = 0;
      stacks[i].forEach(pair => {
        const letter = pair[0];
        const h = pair[1] * bitPx;
        const sx = step * 1.02 / (advance[letter] * 10);
        const sy = h / 7.3;
        const t = mk('text', {'font-size': 10, 'font-weight': 'bold', transform: 'translate(' + (cx - step * .51) + ',' + (zero - acc * bitPx) + ') scale(' + sx + ',' + sy + ')', style: 'fill:' + letterColor[letter]}, g);
        t.textContent = letter;
        
        
        acc += pair[1];
      });
    });
    const tt = txt(g, title, 139, titleY, 13.3, 'middle');
    
    
  }
  logo(logoZnf263, logoTitles[0], 833.3, 25, 63.3, 14, 846, 863, 1);
  logo(logoPatz1, logoTitles[1], 928.3, 25, 66.7, 13.85, 944, 961, 2);
  logo(logoKlf4, logoTitles[2], 1024.5, 25, 63.3, 14, 1041, 1058.5, 3);
})();

/* ---------- draw: Hi-C ---------- */
(function () {
  const host = document.getElementById('hic');
  const binW = 11.733;
  const hicX = b => 290.67 + b * binW;
  const hicY = d => 1006.7 - d * 5.39;
  const stops = [[0, [255,255,255]], [.15, [253,227,216]], [.5, [247,157,134]], [.8, [232,80,60]], [1, [217,42,32]]];
  function color(v) {
    const t = Math.max(0, Math.min(1, (v - 10) / 190));
    for (let i = 1; i < stops.length; i++) {
      if (t <= stops[i][0]) {
        const a = stops[i - 1], b = stops[i];
        const f = (t - a[0]) / (b[0] - a[0]);
        return 'rgb(' + a[1].map((c, k) => Math.round(c + (b[1][k] - c) * f)).join(',') + ')';
      }
    }
    return 'rgb(217,42,32)';
  }
  hicReads.forEach((row, r) => {
    row.forEach((v, c) => {
      const cx = hicX(c + (r + 1) / 2);
      const cy = hicY(r);
      const hw = binW / 2 + .25;
      const hh = 5.39 + .25;
      const cell = mk('polygon', {points: (cx - hw) + ',' + cy + ' ' + cx + ',' + (cy - hh) + ' ' + (cx + hw) + ',' + cy + ' ' + cx + ',' + (cy + hh), fill: color(v)}, host);
      
      
    });
  });
  const kbx = linear(0, 100, 290.7, 417.37);
  const axis = document.getElementById('hicAxis');
  hicGenomeTicks.forEach((kb, i) => {
    const px = kbx(kb - 23300);
    const tk = mk('line', {x1: px, x2: px, y1: 1004, y2: 1010, stroke: '#555', 'stroke-width': .8}, axis);
    
    
    const lb = txt(axis, hicGenomeLabels[i], i === 0 ? px + 2 : px - 13, 1023, 12, 'start');
    
    
  });
  const dhs = document.getElementById('dhs');
  dhsIntervalsKb.forEach(iv => {
    const w = kbx(iv[1]) - kbx(iv[0]);
    const r = mk('rect', {x: kbx(iv[0]), y: 1034, width: Math.max(.9, w), height: 6.2, fill: w > 3 ? 'url(#dhsStripe)' : '#6f1f1f'}, dhs);
    
    
  });
  const genes = document.getElementById('genes');
  const geneRows = [1049.3, 1056, 1056.7, 1055.3];
  geneSpansKb.forEach((sp, i) => {
    const col = geneStrands[i] === 'rev' ? '#4a78c8' : '#222';
    const l = mk('line', {x1: kbx(sp[0]), x2: kbx(sp[1]), y1: geneRows[i], y2: geneRows[i], stroke: col, 'stroke-width': .9}, genes);
    
    
    geneExonsKb[i].forEach(ex => {
      const t = mk('line', {x1: kbx(ex), x2: kbx(ex), y1: geneRows[i] - 3, y2: geneRows[i] + 3, stroke: col, 'stroke-width': 1}, genes);
      
      
    });
  });
  const small = mk('rect', {x: kbx(304.6), y: 1047.5, width: 2.8, height: 5, fill: '#222'}, genes);
  
  
})();

/* ---------- draw: box plot ---------- */
(function () {
  const g = document.getElementById('panel-h');
  const y = linear(0, 1, 1145.3, 1101);
  const centers = [96.7, 170.3];
  const halfW = 26;
  const fills = ['#e8482b', '#4fa8dc'];
  const outliers = [boxOutliersEssential, boxOutliersNonEssential];
  yAxis(g, 'boxplot', 52.3, y, boxTicks, boxTickLabels, 1101, 1256.7, 12);
  xBaseline(g, 'boxplot', 52.3, 214.7, 1256.7, 1);
  boxCategories.forEach((c, i) => {
    const cx = centers[i];
    const tk = mk('line', {x1: cx, x2: cx, y1: 1256.7, y2: 1261, stroke: AXIS, 'stroke-width': 1}, g);
    
    
    const wh = mk('line', {x1: cx, x2: cx, y1: y(boxWhiskerHigh[i]), y2: y(boxWhiskerLow[i]), stroke: '#666', 'stroke-width': 1.6}, g);
    
    
    const bx = mk('rect', {x: cx - halfW, y: y(boxQ3[i]), width: halfW * 2, height: y(boxQ1[i]) - y(boxQ3[i]), fill: fills[i], stroke: '#444', 'stroke-width': 1}, g);
    
    
    const md = mk('line', {x1: cx - halfW, x2: cx + halfW, y1: y(boxMedian[i]), y2: y(boxMedian[i]), stroke: '#111', 'stroke-width': 1.3}, g);
    
    
    outliers[i].forEach(v => {
      const d = mk('circle', {cx: cx, cy: y(v), r: 1.6, fill: '#111'}, g);
      
      
    });
  });
  const sb = mk('line', {x1: centers[0], x2: centers[1], y1: 1107, y2: 1107, stroke: '#888', 'stroke-width': .8}, g);
  
  
  const st = txt(g, '**', 135, 1107.5, 13, 'middle', {'letter-spacing': '1.7'});
  
  
})();

/* ---------- draw: qPCR ---------- */
(function () {
  const colors = ['#111', '#a9a9a9', '#8a8a8a'];
  const gr = document.getElementById('panel-rab');
  const yr = linear(0, 1.5, 1251, 1102.3);
  yAxis(gr, 'rab36', 363.3, yr, rabTicks, rabTickLabels, 1102.3, 1251, 11.5);
  barChart({parent: gr, prefix: 'rab36', categories: qpcrCategories, values: rabValues, errors: rabErrors, points: rabPoints, sig: rabSig,
    x: linear(0, 2, 384, 443.7), y: yr, barW: 21, cap: 5, dotR: 2.1, dotGap: 7, axisLeft: 363.3, axisRight: 463.7, axisWidth: 1.2, axisColor: '#bbb', colors: colors,
    labelDx: 5, labelY: 1265, labelSize: 12.5, starGap: 11});
  const gb = document.getElementById('panel-bcr');
  const yb = linear(0, 3, 1251, 1102.3);
  yAxis(gb, 'bcr-abl', 593.3, yb, bcrTicks, bcrTicks.map(String), 1102.3, 1251, 11.5);
  barChart({parent: gb, prefix: 'bcr-abl', categories: qpcrCategories, values: bcrValues, errors: bcrErrors, points: bcrPoints, sig: bcrSig,
    x: linear(0, 2, 612.7, 672.7), y: yb, barW: 20, cap: 5, dotR: 2.1, dotGap: 8, axisLeft: 593.3, axisRight: 692.7, colors: ['#111', '#a9a9a9', '#7f7f7f'],
    labelDx: 5, labelY: 1265, labelSize: 12.5, starGap: 7.5});
})();
</script>
</body>
</html>
